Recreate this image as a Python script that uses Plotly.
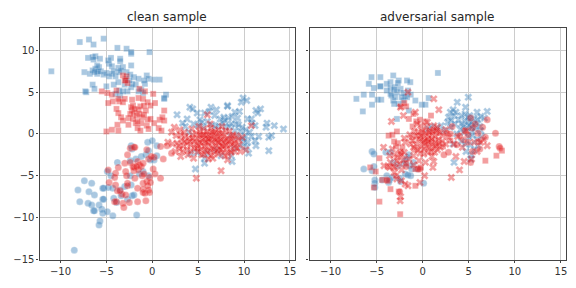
import plotly.graph_objects as go

clean_blue_square = [(-11,7.5),(-7.9,11),(-6.9,11.3),(-6.4,10.7),(-5.3,11.4),(-3.8,10.3),(-2.8,10.2),(-2.3,9.6),(-2.3,9.8),(-0.3,9.8),
(-7,9.1),(-6.5,9.2),(-6.2,9.3),(-6.4,8.9),(-5.7,9),(-4.7,8.4),(-4.8,8.8),(-4.5,9.1),(-4.4,8.1),(-3.5,9),(-3.5,8.7),(-2.3,8.2),(-3.2,8),(-3.7,7.9),(-3.4,7.6),(-2.8,7.4),(-2.4,7.1),
(-7.4,7.4),(-6.8,7.2),(-6.5,7.6),(-6.2,7.8),(-6,7.2),(-5.6,7.5),(-5.8,8),(-6,8.2),(-5.3,7.1),(-5,7.3),(-4.7,6.9),(-4.4,7.2),(-4.2,7.5),(-4,6.9),(-3.6,7.4),(-5.9,7.5),(-6.3,7.4),
(-6.5,5.9),(-6.3,5.4),(-7.2,5),(-7.3,5.1),(-5,5.7),(-4.2,5.9),(-3.6,5.2),(-3,5.9),(-2.2,6),(-2.5,6.4),(-2.0,6.8),(-1.5,6.6),(-0.6,7),(-0.4,6.6),(0.2,6.5),(0.8,6.5),(-1.5,5.1),(-2.7,5.1),(-1,4.9),(1.5,4.7),(1.3,4.2),(-0.8,6),(-3.5,4.6),(-1.2,5.3),(-2.3,5.6),(-3.2,5.1),(-3.7,6.2),(-1.8,5.9),(-4,4.8),(1.3,4.3),(-2.9,6.6),(-0.9,6.4)]

clean_red_square = [(-5.5,5.1),(-4.9,4.9),(-4.4,4.7),(-3.9,5.2),(-3.2,7),(-3,6.4),(-2.7,6.1),(-2.8,6.9),(-2.9,6.4),(-4.3,3.9),(-3.6,3.9),(-3.2,3.8),(-3,4.2),(-3.7,4.2),(-2.2,4.1),(-1.5,4.3),(-1,4.2),(-0.5,3.8),(0.1,4.8),(-0.8,5.1),(-1.4,5.4),(-4.8,3.7),(-3.9,3.0),(-3.7,2.5),(-3.4,2.0),(-2.6,1.9),(-2.2,2.8),(-2.1,3.4),(-2,2.5),(-1.7,2.2),(-1.5,2.9),(-1.3,3.3),(-0.9,3.4),(-0.7,2.8),(-0.2,3.4),(0.3,3.7),(-1.1,2),(-0.5,1.7),(-0.6,1.0),(-1.2,1.3),(-1.6,1.5),(-2.6,1.1),(-3.8,1.1),(-5,0.3),(-4.4,0.5),(-3.7,0.4),(-1.6,0.7),(-0.2,1.8),(0.2,1.3),(0.8,1.7),(1.3,1.6),(1.1,2.0),(1.3,2.8),(-1.8,1.3),(-3.2,1.6),(-2.1,1.8),(-2.4,2.4),(-1.9,3),(-1.4,2.4),(-0.9,2.3),(-2.3,3.2),(-0.4,0.6),(0.7,0.7),(1.0,0.4),(-1.3,0.4)]

clean_blue_x = [(2.7,2.3),(4.1,3.2),(4.4,3.0),(4.9,2.5),(5.7,2.5),(6.4,3.2),(7,2.9),(6.2,2.7),(8.2,3.4),(8.2,3.3),(9.9,4.3),(9.7,3.8),(10.3,4),(11.3,2.8),(11.8,3),(11.5,2.5),(10.8,1.8),(10.4,1.8),(12.5,1.3),(12.4,0.8),(13.3,1),(14.3,0.6),(11.2,1),(10.9,1.3),(13,-0.2),(12.7,-0.4),(11.6,-0.3),(11.2,-0.8),(12.7,-2),(11.3,-1.4),(10.5,-2.3),(10,-0.9),(8.7,-3.3),(8.6,-2.6),(7.5,-2.6),(5.7,-2.9),(5.7,-3.5),(4.7,-4.2),(4.2,-2.3),(4.9,-2.2),
(3.8,1.8),(4.5,1.2),(5.2,1.7),(6,1.5),(6.8,2.2),(7.4,1.8),(7.8,2),(8.3,1.9),(8.7,2.1),(9,2.6),(9.3,1.9),(9.5,2.7),(8.6,1.2),(9.1,1.2),(9.8,0.8),(10.2,0.5),(10.6,0.2),(10.1,-0.2),(9.6,0.3),(3.6,0.9),(4.0,0.2),(3.3,1.3),(7.2,1.0),(8,0.8),(5.6,0.8),(10.4,-1),(9.7,-1.5),(9.9,-0.6),(8.9,-1.7),(7,-1.9),(6,-2.3),(10.8,-0.3),(9,0.4),(7.7,1.3),(5,1),(6.5,1.1),(7.9,1.6),(8.4,0.9),(9.4,1.1),(6.9,0.9),(5.4,1.4),(9.3,-0.4),(8.5,-0.2),(10.3,-1.6)]

clean_red_x = [(4.8,-5.3),(7.5,-4.4),(8.2,-3.1),(3.1,-2.7),(1.7,-1),(6,2.3),(10.8,1),(2.4,0.8),(2.1,0.2),(2.6,-0.2),(3.0,0.5),(3.5,0.2),(2.2,-1.2),(2.7,-1.1),(3.2,-0.7),(3.6,-0.3),(4,-0.5),(4.4,-0.1),(4.8,0.1),(5.2,0.3),(5.6,0.6),(6,0.3),(6.4,0.7),(6.8,0.3),(7.2,0.5),(7.6,0.1),(8,0.4),(8.4,0.3),(8.8,-0.1),(9.2,-0.2),
(2.5,-2.1),(3,-1.8),(3.4,-1.4),(3.8,-1.1),(4.2,-1.3),(4.6,-0.8),(5,-0.5),(5.4,-0.2),(5.8,-0.4),(6.2,-0.1),(6.6,-0.3),(7,-0.1),(7.4,-0.4),(7.8,-0.2),(8.2,-0.5),(8.6,-0.6),(9,-0.9),(9.4,-0.7),
(3.3,-2.1),(3.8,-1.9),(4.2,-2),(4.6,-1.7),(5,-1.4),(5.4,-1.1),(5.8,-0.9),(6.2,-0.7),(6.6,-1),(7,-0.8),(7.4,-1.1),(7.8,-0.9),(8.2,-1.2),(8.6,-1.3),(9,-1.5),(9.5,-1.3),
(5,-2.1),(5.3,-1.8),(5.7,-1.5),(6.1,-1.3),(6.5,-1.6),(6.9,-1.4),(7.3,-1.7),(7.7,-1.5),(8.1,-1.8),(8.5,-1.9),(9,-2.1),(9.6,-2.1),(10.2,-1.9),
(5.6,-2.4),(6,-2.1),(6.4,-2.6),(6.8,-2.2),(7.2,-2.4),(7.7,-2.2),(8.3,-2.4),(6.1,-3),(4.5,-2.9),(3.9,-2.5),(5.1,0.9),(6.3,1.2),(7.6,0.9),(5.9,-0.1),(6.7,0.1),(7.1,-0.5),(5.5,-0.7),(4.8,-1.1),(6,-1),(7.5,-0.7),(8,-1.3),(6.5,0.2),(8.9,-1.1),(4.3,0.6),(3.1,-0.1),(9.8,-0.4),
(4.4,-0.5),(5.2,-1),(5.6,-0.1),(6.4,-0.5),(6.8,-0.7),(7.2,-1),(7.6,-1.4),(8.4,-0.9),(8,-0.7),(5.8,-1.9),(6.3,-2),(6.7,-1.8),(7.1,-2),(7.5,-1.9),(4.9,-1.7),(4.1,-0.9),(5.2,-0.1),(6.1,-0.6),(7.3,0.1),(8.7,-0.3),(9.2,-1.7),(3.5,-0.9),(2.9,-1.4),(8.6,-2.2),(5.4,-2.5),(6.6,-2.9),(7.9,-2.6)]

clean_blue_circle = [(-8.5,-13.9),(-8.1,-6.7),(-7.9,-8.1),(-7.4,-5.6),(-7,-8.3),(-6.9,-6.9),(-6.6,-5.9),(-6.6,-8.5),(-6.3,-7.3),(-6.4,-9.2),(-6.3,-9.2),(-5.8,-8.5),(-5.7,-10.4),(-5.8,-10.9),(-5.5,-9.0),(-5.4,-9.5),(-5.4,-7.8),(-5.3,-7.8),(-5.4,-6.5),(-5.3,-6.5),(-4.9,-9.3),(-4.3,-9.8),(-4.8,-6.4),(-4.9,-4.5),(-4.5,-5),(-4.3,-6.5),(-4.2,-7.7),(-3.9,-8.2),(-3.8,-3.4),(-3.4,-7.4),(-3,-6.3),(-2.7,-7.8),(-2.4,-5),(-2.3,-6.1),(-2.2,-7.4),(-2.4,-3.2),(-1.8,-3),(-1.7,-9.7),(-1.4,-4.8),(-1.2,-2.7),(-0.7,-2.5),(-0.4,-2),(-0.4,-5),(0.2,-3.1),(0.5,-2.6),(-0.5,-1),(0,-0.8),(0.5,-1.4),(-2.3,-1.4),(-2.2,-1.8),(-3.5,-6.7),(-2,-7.3),(-0.2,-3.1),(-1,-4.5)]

clean_red_circle = [(-4.8,-4.3),(-4.7,-5.8),(-4.1,-5.2),(-4,-4.7),(-4,-6.1),(-3.7,-4),(-3.3,-7.2),(-3.5,-6.8),(-3.2,-8.3),(-3.1,-8.8),(-3.9,-8.1),(-4.1,-8.1),(-3,-3.5),(-2.9,-4.5),(-2.8,-5),(-2.7,-5.9),(-2.7,-6.2),(-2.9,-7.3),(-2.5,-8.2),(-2.7,-2.5),(-2.4,-3.4),(-2.4,-1.7),(-2,-1.6),(-2.1,-3.9),(-2,-4.4),(-1.9,-5.3),(-1.6,-6.5),(-1.6,-8.1),(-1.6,-3.3),(-1.4,-3.7),(-1.5,-4.3),(-1.2,-3.9),(-1,-3.5),(-1.1,-5),(-1,-5.9),(-1,-6.6),(-1,-7),(-0.8,-7.1),(-0.7,-8),(-0.6,-5.7),(-0.5,-6.2),(-0.4,-6.7),(-0.3,-7),(-0.3,-5.2),(-0.2,-5.8),(-0.6,-1.9),(-0.4,-3),(0.2,-2.8),(0.1,-4.2),(0.3,-4.8),(0.9,-5.3),(1.2,-3),(-0.1,-2.7),(0.9,-1.5),(1.6,-1.4),(-1.9,-1.6),(-2,-4),(-1.7,-3.9),(2.1,-2.3),(-3.8,-6.8),(-0.9,-4.8)]

adv_blue_square = [(1.65,7.3),(-5.56,6.8),(-4.6,6.8),(-3.2,7),(-5.85,6),(-5.3,5.5),(-4.6,5.7),(-7.2,4.2),(-6.4,4.7),(-5.5,4.7),(-6.5,2.7),(-5.5,3.5),(-4.9,4.1),(-4.5,4.1),(-3.5,6.2),(-2.6,6.4),(-1.7,6.4),(-1.35,6.2),(-3.9,5.2),(-3.5,4.8),(-3,5.6),(-3.2,4),(-2.1,4),(-1.7,4.4),(-0.8,4),(-0.1,3.5),(0.3,3.5),(0.65,4.3),(-1.5,2.8),(-2.8,1.8),(-3.9,6),(-3.5,5.5),(-3.1,5.3),(-2.8,5),(-2.4,5.4),(-2.1,4.9),(-1.9,4.5),(-3,4.4),(-2.6,3.6),(-3.1,3.6),(-2.3,4.4),(-3.4,4.6),(-2.7,6.1),(-4.6,5.7),(-1.6,5.2),(-1.3,4.7)]

adv_blue_x = [(3.75,3.8),(4.95,4.4),(4.65,3.2),(7,2.7),(3,2.6),(3.6,2.6),(5.9,2.6),(3.4,2.2),(2.8,2),(3.9,1.7),(4.6,2.4),(5.1,2.2),(5.6,1.9),(6,1.7),(6.3,2.1),(6.7,1.9),(4.2,1.2),(4.6,1.5),(5,1.6),(5.5,1.1),(5.9,1.3),(6.2,0.9),(2,1.0),(2.3,0.4),(0.6,0.6),(0.9,0.9),(1.5,0.7),(3,0.8),(3.5,1.2),(4.1,0.5),(4.8,0.7),(5.3,0.3),(5.7,0.6),(6.3,0.4),(5,-0.4),(5.4,-0.2),(5.9,-0.6),(4.2,-0.9),(4.6,-1.2),(5.2,-1.3),(6,-1.4),(5.6,-1.9),(5.3,-2.5),(5.2,-3),(3.4,-3.4),(4.7,-2.1),(3.3,-1.2),(6.4,-0.3),(3.7,0),(2.7,1.4),(3.1,1.6),(4.4,0.9),(5.3,0.8),(4.9,2),(3.3,2.9),(4.2,2.2),(5.3,1.4),(5,1),(4.5,0.2)]

adv_blue_circle = [(-5.5,-2.1),(-5.3,-2.4),(-6.4,-4.2),(-5.5,-4.4),(-5.3,-3.9),(-5.2,-5.5),(-5.2,-5.9),(-5.2,-6.4),(-3.7,-5.8),(-3.9,-5),(-3.6,-5.5),(-2.5,-5.3),(-2.4,-5.7),(-1.9,-4.8),(-1.3,-5),(-1.6,-4.9),(0.1,-5.9),(-1.7,-2.8),(-1.9,-3.2),(-1.4,-3.8),(-0.6,-4.2),(-3.5,-2.2),(-4,-2.2),(-2,-3.6),(-1.2,-4.2),(-3.2,-3.4),(-2.7,-3.8),(-1.5,-2.5),(-1,-3.4),(-3.3,-5.2),(-4.4,-5.5)]

adv_red_square = [(-2.4,3.3),(-1.5,1.8),(-2,3.7),(-1,2.4),(-1.8,3.3),(0.9,2.2),(-1.1,0.9),(-3.7,-0.2),(-3.3,-0.1),(-2.8,0.3),(-2.7,-1.1),(-2.9,-1.5),(-3.1,-0.9),(-2.4,-2.1),(-2.45,-9.6),(-4.7,-8.1),(-3.5,-6.6),(-5.3,-6.4),(-2.6,-6.9),(-5.7,-4),(-5.1,-4.5),(-4.7,-2.9),(-3.8,-3.9),(-0.8,-6.2),(8,-2.6),(8.6,-2),(6.8,-3.2),(-0.7,1.5),(-0.3,1.7),(0.3,1.5),(1.3,0.5),(0.6,-0.2),(0.2,-1.1),(-0.3,-0.5),(-1.2,-0.4),(-0.9,-1.9),(-2.2,-1.6),(-3.8,-5.6),(-4.4,-5.5),(-2.9,-5),(-1.8,-3.5),(-0.8,-4.2),(-0.2,-4),(1.5,-1.3),(2.2,-1.5),(3,-0.8),(0.7,-0.8),(1.1,-1.6),(-0.1,0.2),(1.7,0.1)]

adv_red_x = [(-1.6,5),(-3.4,1.5),(1.2,4.2),(1.75,2.9),(-0.8,2.6),(-2.1,2.2),(-2.4,3.2),(-2.5,-2.3),(-4.25,-1.6),(-2.45,-8),(-2.4,-7.5),(-1.9,-6),(-0.3,-5.8),(0.2,-5),(3.1,-5.2),(4,-4.3),(4.5,-3.3),(-3.6,-2.6),(-3.5,-3.4),(-3.6,-4),(-3.1,-4.6),(-3,-4),(-2.7,-2.8),(-2.3,-2.5),(-2.5,-3.6),(-2.3,-4.3),(-2.8,-5.4),(-2.3,-5.6),(-1.6,-6.2),(-4.2,-3.8),(-1,-3.7),(-0.4,-3.2),(0.3,-3.4),(1,-2.7),(1.2,-3.3),(1.1,-4),(1.3,-2.2),(1.6,-1.9),(1.9,-1.6),(0.6,-2.2),(-0.3,-2.3),(-0.7,-1.3),(-1.3,-1.2),(-1.9,-1),(-2,-0.5),(-1.4,-0.1),(-0.9,0.3),(-0.5,0.2),(0,0.4),(0.4,0.8),(0.8,0.4),(1.2,1),(1.6,0.8),(0.1,-0.4),(0.5,-0.6),(1,-0.1),(1.4,-0.3),(1.9,0.2),(2.2,-0.2),(2.5,0.5),(-0.5,-0.7),(0,-1),(0.4,-1.4),(0.9,-1.1),(1.3,-0.9),(1.7,-0.7),(-0.2,-1.6),(0.2,-1.8),(0.7,-1.6),(3.4,-1.2),(3.8,-0.3),(3.6,-2.7),(5.3,-3),(4.7,0.4),(5.6,-1),(6.3,-1),(5.9,-2.1),(4.3,-1.6),(6.6,-0.7),(7,-1.4),(-0.2,1),(-0.6,1.2),(0.5,1.4),(-1.1,-0.8),(-3.3,-1.8),(-3.1,-2.5),(-2,-2.2),(-1.5,-3),(-1,-2.6),
(0.3,0.1),(0.7,0.2),(1.1,0.3),(1.5,0.4),(-0.2,-0.2),(0.2,-0.8),(0.6,-0.9),(1,-0.6),(1.4,-1.4),(1.8,-1.1),(-0.7,-0.2),(-1,-1.6),(-0.5,-1.9),(0.1,-2.4),(0.9,-2.1),(2.1,-0.9),(2.5,-1.2),(2.8,-0.4),(-2.8,-3.2),(-2.1,-3.1),(-3.2,-3.9)]

adv_red_circle = [(7,1.7),(7.9,0.1),(6.5,0.8),(5.2,-3.4),(8.3,-1.5),(8.4,-1.7),(5.2,1.9),(5.4,0.7),(4,-0.2),(3.2,0.9),(2.6,0.1),(4.9,-0.1),(6,0.1),(6.8,-0.4),(6.1,-0.9),(4.4,-0.7),(3.7,-1.3),(2.8,-2.2),(2.3,-2.5),(5.4,-2.1),(6.2,-1.8),(4.9,-1),(-1.8,-3.9),(-0.5,-4.2),(-0.3,-4.2),(-2.5,-6.9),(-3.9,-5.5),(3,0),(4.6,0.4),(5.7,1.2)]

BLUE = "#377eb8"
RED = "#e41a1c"
SETS = [
    ("x", "y", clean_blue_square, BLUE, "square", 6),
    ("x", "y", clean_blue_x, BLUE, "x", 7),
    ("x", "y", clean_blue_circle, BLUE, "circle", 7),
    ("x", "y", clean_red_square, RED, "square", 6),
    ("x", "y", clean_red_x, RED, "x", 7),
    ("x", "y", clean_red_circle, RED, "circle", 7),
    ("x2", "y2", adv_blue_square, BLUE, "square", 6),
    ("x2", "y2", adv_blue_x, BLUE, "x", 7),
    ("x2", "y2", adv_blue_circle, BLUE, "circle", 7),
    ("x2", "y2", adv_red_square, RED, "square", 6),
    ("x2", "y2", adv_red_x, RED, "x", 7),
    ("x2", "y2", adv_red_circle, RED, "circle", 7),
]

fig = go.Figure()
for xa, ya, pts, col, sym, size in SETS:
    fig.add_trace(go.Scatter(
        x=[p[0] for p in pts], y=[p[1] for p in pts], xaxis=xa, yaxis=ya,
        mode="markers", showlegend=False, hoverinfo="skip",
        marker=dict(symbol=sym, size=size, color=col, opacity=0.42,
                    line=dict(color="rgba(255,255,255,0.7)", width=0.4)),
    ))

W, H = 576, 288
FONT = "DejaVu Sans"
common = dict(showgrid=True, gridcolor="#cccccc", gridwidth=1, zeroline=False, automargin=False,
              showline=True, linecolor="#444444", linewidth=1.25, mirror=True,
              ticks="outside", ticklen=2, tickwidth=1, tickcolor="#444444",
              tickfont=dict(family=FONT, size=10, color="#333333"))
xticks = [-10, -5, 0, 5, 10, 15]
xlabels = ["\u221210", "\u22125", "0", "5", "10", "15"]
yticks = [-15, -10, -5, 0, 5, 10]
ylabels = ["\u221215", "\u221210", "\u22125", "0", "5", "10"]
xr = [-12.29, 15.5]
yr = [-15.08, 12.74]
fig.update_layout(
    template="none",
    width=W, height=H, autosize=False,
    margin=dict(l=0, r=0, t=0, b=0),
    paper_bgcolor="white", plot_bgcolor="white",
    xaxis=dict(domain=[39.5/W, 294.5/W], range=xr, tickvals=xticks, ticktext=xlabels, anchor="y", **common),
    xaxis2=dict(domain=[309.5/W, 565.5/W], range=xr, tickvals=xticks, ticktext=xlabels, anchor="y2", **common),
    yaxis=dict(domain=[1-260/H, 1-27.5/H], range=yr, tickvals=yticks, ticktext=ylabels, anchor="x", **common),
    yaxis2=dict(domain=[1-260/H, 1-27.5/H], range=yr, tickvals=yticks, ticktext=[""]*6, anchor="x2", **common),
    annotations=[
        dict(text="clean sample", x=167/W, y=1-17/H, xref="paper", yref="paper", showarrow=False,
             xanchor="center", yanchor="middle", font=dict(family=FONT, size=12, color="#262626")),
        dict(text="adversarial sample", x=437/W, y=1-17/H, xref="paper", yref="paper", showarrow=False,
             xanchor="center", yanchor="middle", font=dict(family=FONT, size=12, color="#262626")),
    ],
)
fig.write_html("out.html", config=dict(displayModeBar=False),
               post_script="document.body.style.margin='0';document.body.style.overflow='hidden';")
